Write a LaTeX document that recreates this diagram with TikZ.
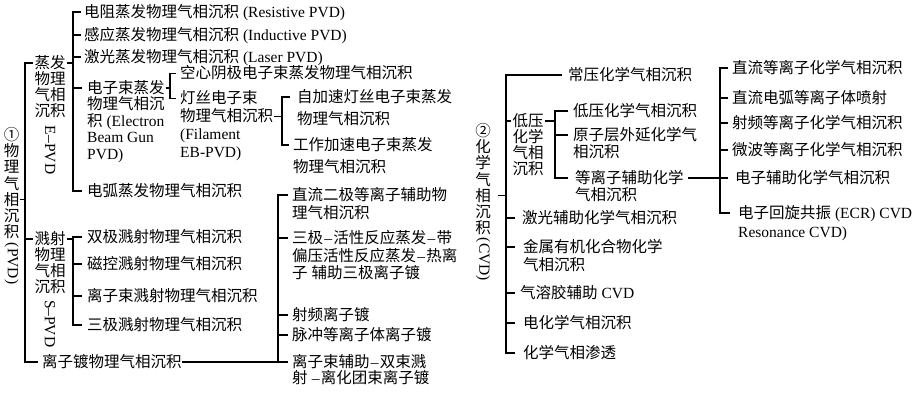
\documentclass[tikz,border=0pt]{standalone}
\usepackage{fontspec}
\usepackage{graphicx}
\setmainfont{Noto Sans CJK SC}
\newfontfamily\latf{Liberation Serif}
\newcommand\lat[1]{{\latf #1}}
\newcommand\dd{\hspace{1.2pt}\lat{–}\hspace{1.2pt}}
\newcommand\ml[2][17]{\vtop{\baselineskip=#1pt\lineskiplimit=-100pt\lineskip=0pt\halign{##\hfil\cr#2\crcr}}}
\newcommand\vst[2][16]{\vtop{\baselineskip=#1pt\lineskiplimit=-100pt\lineskip=0pt\halign{\hfil##\hfil\cr#2\crcr}}}
\newcommand\rot[1]{\rotatebox{-90}{\lat{#1}}}
\newcommand\bt[2]{\path (#1.base west) ++(-#2,-5.5) coordinate (#1t);}
\newcommand\br[3]{\bt{#2}{#3}\draw[ln] (#1 |- #2t) -- (#2t);}
\tikzset{
  txt/.style={anchor=base west, inner sep=0pt, font=\fontsize{15.5}{16}\selectfont},
  stk/.style={anchor=base, inner sep=0pt, font=\fontsize{15.5}{16}\selectfont},
  ln/.style={line width=1.2pt, black},
}
\begin{document}
\begin{tikzpicture}[x=1pt, y=-1pt]
\useasboundingbox (0,0) rectangle (915,398);
% vertical line x positions
\coordinate (pV) at (25,0);
\coordinate (eV) at (73,0);
\coordinate (ebV) at (170,0);
\coordinate (flV) at (282,0);
\coordinate (iV) at (278,0);
\coordinate (cV) at (506,0);
\coordinate (lV) at (555,0);
\coordinate (qV) at (720,0);

% ---------------- PVD ----------------
\node[stk] (pvd) at (11.5,140.5) {\vst[16.2]{①\cr 物\cr 理\cr 气\cr 相\cr 沉\cr 积\cr\noalign{\kern-10.9pt}\rot{(PVD)}\cr}};
\node[stk] (ev) at (50,68.5) {\vst{蒸发\cr 物理\cr 气相\cr 沉积\cr\noalign{\kern-6.5pt}\rot{E–PVD}\cr}};
\node[stk] (sp) at (50,244.5) {\vst{溅射\cr 物理\cr 气相\cr 沉积\cr\noalign{\kern-8.5pt}\rot{S–PVD}\cr}};

\node[txt] (e1) at (84,17.5) {电阻蒸发物理气相沉积\lat{ (Resistive PVD)}};
\node[txt] (e2) at (84,40.5) {感应蒸发物理气相沉积\lat{ (Inductive PVD)}};
\node[txt] (e3) at (84,62.5) {激光蒸发物理气相沉积\lat{ (Laser PVD)}};
\node[txt] (e4) at (87,93.5) {\ml[16.5]{电子束蒸发\cr 物理气相沉\cr 积\lat{ (Electron}\cr \lat{Beam Gun}\cr \lat{PVD)}}};
\node[txt] (e5) at (87,196.5) {电弧蒸发物理气相沉积};

\node[txt] (eb1) at (180,79) {空心阴极电子束蒸发物理气相沉积};
\node[txt] (eb2) at (180,104) {\ml[18]{灯丝电子束\cr 物理气相沉积\cr \lat{(Filament}\cr \lat{EB-PVD)}}};

\node[txt] (fl1) at (297,102.5) {\ml[22]{自加速灯丝电子束蒸发\cr 物理气相沉积}};
\node[txt] (fl2) at (293,150.5) {\ml[22]{工作加速电子束蒸发\cr 物理气相沉积}};

\node[txt] (s1) at (87,242.5) {双极溅射物理气相沉积};
\node[txt] (s2) at (87,269.5) {磁控溅射物理气相沉积};
\node[txt] (s3) at (87,301.5) {离子束溅射物理气相沉积};
\node[txt] (s4) at (87,330.5) {三极溅射物理气相沉积};

\node[txt] (ip) at (42,367.5) {离子镀物理气相沉积};
\node[txt] (i1) at (292,200.5) {\ml[18]{直流二极等离子辅助物\cr 理气相沉积}};
\node[txt] (i2) at (292,243.5) {\ml[17.5]{三极\dd 活性反应蒸发\dd 带\cr 偏压活性反应蒸发\dd 热离\cr 子\hspace{4pt}辅助三极离子镀}};
\node[txt] (i3) at (292,320.5) {射频离子镀};
\node[txt] (i4) at (292,340.5) {脉冲等离子体离子镀};
\node[txt] (i5) at (292,367.5) {\ml[16]{离子束辅助\dd 双束溅\cr 射\hspace{3pt}\dd 离化团束离子镀}};

% PVD connectors
\bt{ev}{1.5}\bt{ip}{4}
\draw[ln] (evt) -- (evt -| pV) -- (ipt -| pV) -- (ipt);
\br{pV}{sp}{1.5}
\path (pvd.base east) ++(0.8,58.8) coordinate (pvdR);
\draw[ln] (pvdR) -- (pvdR -| pV);
% evaporation bracket
\path (ev.base east) ++(1,-5.5) coordinate (evR);
\draw[ln] (evR) -- (evR -| eV);
\bt{e1}{3}\bt{e5}{5}
\draw[ln] (e1t) -- (e1t -| eV) -- (e5t -| eV) -- (e5t);
\br{eV}{e2}{3}\br{eV}{e3}{3}\br{eV}{e4}{5}
% electron beam bracket
\path (e4.base east) ++(1,-5.5) coordinate (e4R);
\draw[ln] (e4R) -- (e4R -| ebV);
\bt{eb1}{4}\bt{eb2}{4}
\draw[ln] (eb1t) -- (eb1t -| ebV) -- (eb2t -| ebV) -- (eb2t);
% filament bracket
\path (eb2.base east) ++(1,12.5) coordinate (eb2R);
\draw[ln] (eb2R) -- (eb2R -| flV);
\bt{fl1}{7}\bt{fl2}{4}
\draw[ln] (fl1t) -- (fl1t -| flV) -- (fl2t -| flV) -- (fl2t);
% sputtering bracket
\path (sp.base east) ++(1,-5.5) coordinate (spR);
\draw[ln] (spR) -- (spR -| eV);
\bt{s1}{5}\bt{s4}{5}
\draw[ln] (s1t) -- (s1t -| eV) -- (s4t -| eV) -- (s4t);
\br{eV}{s2}{5}\br{eV}{s3}{5}
% ion plating bracket
\path (ip.base east) ++(0,-5.5) coordinate (ipR);
\bt{i1}{4}\bt{i5}{4}
\draw[ln] (i1t) -- (i1t -| iV) -- (i5t -| iV) -- (i5t);
\draw[ln] (ipR) -- (ipR -| iV);
\br{iV}{i2}{4}\br{iV}{i3}{4}\br{iV}{i4}{4}

% ---------------- CVD ----------------
\node[stk] (cvd) at (483,136.5) {\vst[16.2]{②\cr 化\cr 学\cr 气\cr 相\cr 沉\cr 积\cr\noalign{\kern-11.9pt}\rot{(CVD)}\cr}};
\node[txt] (c1) at (568,80.5) {常压化学气相沉积};
\node[stk] (lp) at (528,126.5) {\vst{低压\cr 化学\cr 气相\cr 沉积}};
\node[txt] (l1) at (573,116.5) {低压化学气相沉积};
\node[txt] (l2) at (573,140.5) {\ml{原子层外延化学气\cr 相沉积}};
\node[txt] (l3) at (575,183.5) {\ml{等离子辅助化学\cr 气相沉积}};
\node[txt] (c3) at (522,223.5) {激光辅助化学气相沉积};
\node[txt] (c4) at (523,252.5) {\ml[18]{金属有机化合物化学\cr 气相沉积}};
\node[txt] (c5) at (520,298.5) {气溶胶辅助\lat{ CVD}};
\node[txt] (c6) at (523,328.5) {电化学气相沉积};
\node[txt] (c7) at (523,358.5) {化学气相渗透};

\node[txt] (p1) at (732,73.5) {直流等离子化学气相沉积};
\node[txt] (p2) at (732,103.5) {直流电弧等离子体喷射};
\node[txt] (p3) at (732,128.5) {射频等离子化学气相沉积};
\node[txt] (p4) at (732,155.5) {微波等离子化学气相沉积};
\node[txt] (p5) at (735,183.5) {电子辅助化学气相沉积};
\node[txt] (p6) at (738,218.5) {\ml[19]{电子回旋共振\lat{ (ECR) CVD}\cr \lat{Resonance CVD)}}};

% CVD connectors
\path (cvd.base east) ++(7,59.3) coordinate (cvdR);
\draw[ln] (cvdR) -- (cvdR -| cV);
\bt{c1}{6}\bt{c7}{8}
\draw[ln] (c1t) -- (c1t -| cV) -- (c7t -| cV) -- (c7t);
\br{cV}{lp}{1.5}\br{cV}{c3}{7}\br{cV}{c4}{8}\br{cV}{c5}{5}\br{cV}{c6}{8}
% low pressure bracket
\path (lp.base east) ++(1,-5.5) coordinate (lpR);
\draw[ln] (lpR) -- (lpR -| lV);
\bt{l1}{5}\bt{l3}{7}
\draw[ln] (l1t) -- (l1t -| lV) -- (l3t -| lV) -- (l3t);
\br{lV}{l2}{5}
% plasma bracket
\path (l3.base east) ++(4,-5.5) coordinate (l3R);
\bt{p1}{4}\bt{p5}{7}\bt{p6}{8}
\draw[ln] (p1t) -- (p1t -| qV) -- (p6t -| qV) -- (p6t);
\draw[ln] (l3R) -- (l3R -| p5t);
\br{qV}{p2}{4}\br{qV}{p3}{4}\br{qV}{p4}{4}
\end{tikzpicture}
\end{document}
